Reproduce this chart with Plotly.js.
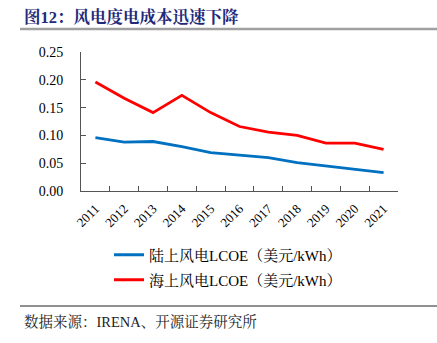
<!DOCTYPE html>
<html>
<head>
<meta charset="utf-8">
<script src="https://cdn.plot.ly/plotly-3.0.1.min.js"></script>
<style>html,body{margin:0;padding:0;background:#fff;}#chart{width:437px;height:343px;}</style>
</head>
<body>
<div id="chart"></div>
<script>
const years = ['2011','2012','2013','2014','2015','2016','2017','2018','2019','2020','2021'];
const onshore = [0.096,0.088,0.089,0.080,0.069,0.064,0.060,0.051,0.045,0.039,0.033];
const offshore = [0.196,0.167,0.141,0.172,0.141,0.116,0.106,0.100,0.086,0.086,0.075];
const yTicks = [0,0.05,0.10,0.15,0.20,0.25];
const yTickText = ['0.00','0.05','0.10','0.15','0.20','0.25'];
const seriesNames = ['陆上风电LCOE（美元/kWh）','海上风电LCOE（美元/kWh）'];

const FONT = 'Liberation Serif, "Noto Serif CJK SC", "Noto Sans CJK SC", serif';

const traces = [
  {x: years, y: onshore, type:'scatter', mode:'lines', name: seriesNames[0],
   line:{color:'#0070C0', width:2.8}, legend:'legend'},
  {x: years, y: offshore, type:'scatter', mode:'lines', name: seriesNames[1],
   line:{color:'#FF0000', width:2.8}, legend:'legend2'}
];

const L = 81, R = 398, T = 52, B = 191;
const W = 437, H = 343;
const px = v => (v - L) / (R - L);
const py = v => (B - v) / (B - T);

const layout = {
  width: W, height: H,
  margin: {l: L, r: W - R, t: T, b: H - B, pad: 0, autoexpand: false},
  paper_bgcolor: '#fff', plot_bgcolor: '#fff',
  font: {family: FONT, color: '#000', size: 13},
  showlegend: true,
  xaxis: {
    type: 'category', range: [-0.5, 10.5], fixedrange: true, automargin: false,
    showline: true, linecolor: '#555', linewidth: 1,
    ticks: 'inside', ticklen: 5, tickcolor: '#555', tickson: 'boundaries',
    ticklabelstandoff: 4,
    tickangle: -45, tickfont: {size: 13, color: '#000', family: FONT},
    showgrid: false, zeroline: false
  },
  yaxis: {
    range: [0, 0.25], fixedrange: true, automargin: false,
    tickvals: yTicks, ticktext: yTickText,
    showline: true, linecolor: '#555', linewidth: 1,
    ticks: 'inside', ticklen: 5, tickcolor: '#555',
    ticklabelstandoff: 14,
    tickfont: {size: 14, color: '#000', family: FONT},
    showgrid: false, zeroline: false
  },
  legend: {
    xref: 'container', yref: 'container',
    x: 109 / W, y: (H - 255) / H, xanchor: 'left', yanchor: 'middle',
    bgcolor: 'rgba(0,0,0,0)', borderwidth: 0,
    font: {size: 15, color: '#000', family: FONT}
  },
  legend2: {
    xref: 'container', yref: 'container',
    x: 109 / W, y: (H - 280) / H, xanchor: 'left', yanchor: 'middle',
    bgcolor: 'rgba(0,0,0,0)', borderwidth: 0,
    font: {size: 15, color: '#000', family: FONT}
  },
  shapes: [
    {type: 'line', xref: 'paper', yref: 'paper', x0: px(20), x1: px(437), y0: py(29), y1: py(29),
     line: {color: '#A0A0A0', width: 2.5}},
    {type: 'line', xref: 'paper', yref: 'paper', x0: px(20), x1: px(437), y0: py(306), y1: py(306),
     line: {color: '#222', width: 1}}
  ],
  annotations: [
    {text: '<b>图12：风电度电成本迅速下降</b>', xref: 'paper', yref: 'paper',
     x: px(22), y: py(17), xanchor: 'left', yanchor: 'middle', showarrow: false,
     font: {size: 16.5, color: '#1F2A7A', family: FONT}},
    {text: '数据来源：IRENA、开源证券研究所', xref: 'paper', yref: 'paper',
     x: px(22), y: py(321), xanchor: 'left', yanchor: 'middle', showarrow: false,
     font: {size: 14.5, color: '#222', family: FONT}}
  ]
};

Plotly.newPlot('chart', traces, layout, {displayModeBar: false, staticPlot: true});
</script>
</body>
</html>
